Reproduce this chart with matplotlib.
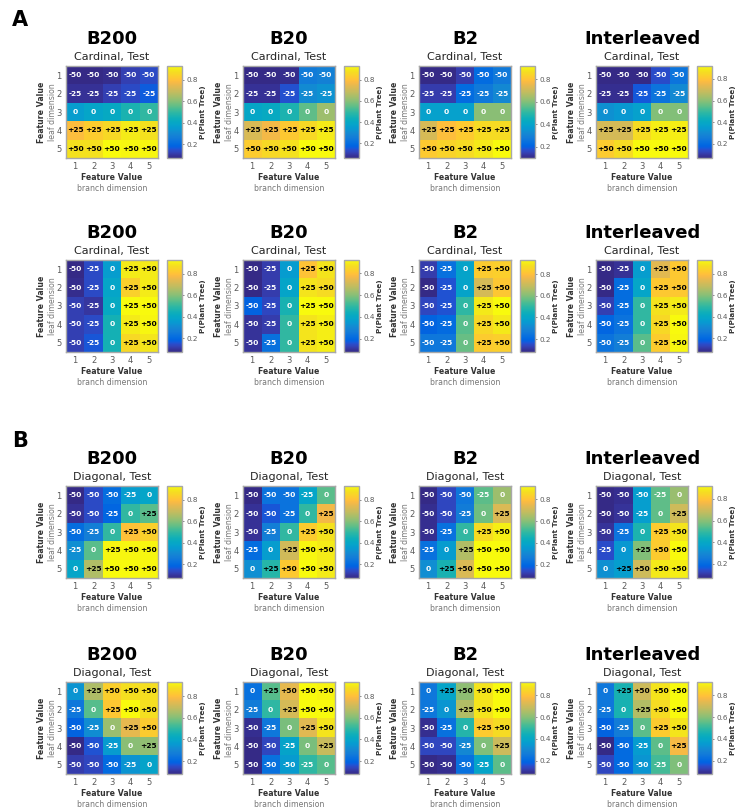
import numpy as np
import matplotlib
matplotlib.use("Agg")
import matplotlib.pyplot as plt
from matplotlib.colors import LinearSegmentedColormap

# ---------------- data ----------------
feature_ticks = [1, 2, 3, 4, 5]
cbar_ticks = [0.2, 0.4, 0.6, 0.8]
column_titles = ["B200", "B20", "B2", "Interleaved"]
row_subtitles = ["Cardinal, Test", "Cardinal, Test", "Diagonal, Test", "Diagonal, Test"]

labels_card_leaf = [["-50"] * 5, ["-25"] * 5, ["0"] * 5, ["+25"] * 5, ["+50"] * 5]
labels_card_branch = [["-50", "-25", "0", "+25", "+50"]] * 5
labels_diag_a = [["-50", "-50", "-50", "-25", "0"],
                 ["-50", "-50", "-25", "0", "+25"],
                 ["-50", "-25", "0", "+25", "+50"],
                 ["-25", "0", "+25", "+50", "+50"],
                 ["0", "+25", "+50", "+50", "+50"]]
labels_diag_b = [["0", "+25", "+50", "+50", "+50"],
                 ["-25", "0", "+25", "+50", "+50"],
                 ["-50", "-25", "0", "+25", "+50"],
                 ["-50", "-50", "-25", "0", "+25"],
                 ["-50", "-50", "-50", "-25", "0"]]

# row 1: Cardinal (leaf dimension)
card_leaf_B200 = [[0.07, 0.07, 0.08, 0.12, 0.14],
                  [0.09, 0.09, 0.12, 0.14, 0.17],
                  [0.36, 0.39, 0.41, 0.46, 0.50],
                  [0.79, 0.83, 0.86, 0.90, 0.88],
                  [0.88, 0.88, 0.93, 0.92, 0.92]]
card_leaf_B20 = [[0.06, 0.06, 0.07, 0.25, 0.27],
                 [0.08, 0.08, 0.14, 0.30, 0.32],
                 [0.39, 0.41, 0.46, 0.55, 0.63],
                 [0.72, 0.77, 0.82, 0.86, 0.90],
                 [0.83, 0.86, 0.88, 0.93, 0.93]]
card_leaf_B2 = [[0.10, 0.10, 0.14, 0.23, 0.27],
                [0.14, 0.14, 0.23, 0.27, 0.32],
                [0.39, 0.39, 0.39, 0.61, 0.61],
                [0.72, 0.79, 0.82, 0.86, 0.86],
                [0.82, 0.84, 0.86, 0.89, 0.92]]
card_leaf_Inter = [[0.07, 0.07, 0.07, 0.14, 0.23],
                   [0.08, 0.08, 0.16, 0.23, 0.30],
                   [0.32, 0.34, 0.37, 0.59, 0.59],
                   [0.71, 0.71, 0.86, 0.90, 0.90],
                   [0.82, 0.86, 0.92, 0.92, 0.92]]

# row 2: Cardinal (branch dimension)
card_branch_B200 = [[0.07, 0.14, 0.36, 0.90, 0.90],
                    [0.08, 0.14, 0.39, 0.84, 0.90],
                    [0.12, 0.10, 0.41, 0.93, 0.93],
                    [0.12, 0.14, 0.45, 0.90, 0.92],
                    [0.12, 0.16, 0.45, 0.86, 0.89]]
card_branch_B20 = [[0.08, 0.12, 0.36, 0.80, 0.88],
                   [0.08, 0.12, 0.39, 0.88, 0.86],
                   [0.19, 0.14, 0.46, 0.92, 0.92],
                   [0.10, 0.12, 0.50, 0.88, 0.90],
                   [0.10, 0.23, 0.50, 0.88, 0.90]]
card_branch_B2 = [[0.12, 0.23, 0.39, 0.83, 0.84],
                  [0.08, 0.16, 0.39, 0.72, 0.82],
                  [0.14, 0.16, 0.50, 0.90, 0.93],
                  [0.19, 0.21, 0.55, 0.86, 0.90],
                  [0.25, 0.25, 0.57, 0.83, 0.84]]
card_branch_Inter = [[0.07, 0.09, 0.36, 0.74, 0.82],
                     [0.07, 0.21, 0.39, 0.82, 0.82],
                     [0.12, 0.21, 0.50, 0.88, 0.90],
                     [0.19, 0.23, 0.50, 0.86, 0.93],
                     [0.23, 0.27, 0.55, 0.83, 0.92]]

# row 3: Diagonal (a)
diag_a_B200 = [[0.07, 0.14, 0.21, 0.36, 0.39],
               [0.09, 0.14, 0.19, 0.50, 0.55],
               [0.21, 0.27, 0.50, 0.80, 0.84],
               [0.32, 0.55, 0.92, 0.92, 0.92],
               [0.39, 0.66, 0.93, 0.93, 0.92]]
diag_a_B20 = [[0.07, 0.23, 0.23, 0.39, 0.55],
              [0.09, 0.16, 0.23, 0.50, 0.77],
              [0.09, 0.27, 0.50, 0.83, 0.88],
              [0.21, 0.36, 0.71, 0.92, 0.90],
              [0.32, 0.48, 0.82, 0.93, 0.90]]
diag_a_B2 = [[0.08, 0.14, 0.25, 0.55, 0.63],
             [0.09, 0.14, 0.27, 0.57, 0.72],
             [0.09, 0.23, 0.50, 0.86, 0.90],
             [0.23, 0.36, 0.66, 0.92, 0.92],
             [0.32, 0.46, 0.72, 0.92, 0.92]]
diag_a_Inter = [[0.07, 0.08, 0.36, 0.55, 0.62],
                [0.07, 0.09, 0.36, 0.55, 0.70],
                [0.09, 0.23, 0.46, 0.82, 0.88],
                [0.14, 0.34, 0.59, 0.82, 0.92],
                [0.32, 0.36, 0.70, 0.89, 0.90]]

# row 4: Diagonal (b)
diag_b_B200 = [[0.34, 0.66, 0.84, 0.88, 0.88],
               [0.25, 0.55, 0.82, 0.93, 0.88],
               [0.19, 0.32, 0.63, 0.75, 0.83],
               [0.08, 0.16, 0.36, 0.61, 0.62],
               [0.12, 0.14, 0.21, 0.34, 0.39]]
diag_b_B20 = [[0.23, 0.55, 0.75, 0.93, 0.92],
              [0.27, 0.50, 0.72, 0.93, 0.93],
              [0.09, 0.25, 0.59, 0.74, 0.89],
              [0.08, 0.14, 0.39, 0.59, 0.70],
              [0.08, 0.23, 0.36, 0.50, 0.55]]
diag_b_B2 = [[0.25, 0.39, 0.61, 0.88, 0.92],
             [0.25, 0.34, 0.66, 0.88, 0.92],
             [0.09, 0.23, 0.48, 0.82, 0.86],
             [0.14, 0.14, 0.30, 0.59, 0.70],
             [0.08, 0.09, 0.23, 0.39, 0.55]]
diag_b_Inter = [[0.25, 0.46, 0.70, 0.88, 0.92],
                [0.25, 0.46, 0.66, 0.86, 0.92],
                [0.19, 0.27, 0.55, 0.82, 0.88],
                [0.08, 0.21, 0.36, 0.55, 0.77],
                [0.14, 0.21, 0.34, 0.52, 0.59]]

panel_values = [
    [card_leaf_B200, card_leaf_B20, card_leaf_B2, card_leaf_Inter],
    [card_branch_B200, card_branch_B20, card_branch_B2, card_branch_Inter],
    [diag_a_B200, diag_a_B20, diag_a_B2, diag_a_Inter],
    [diag_b_B200, diag_b_B20, diag_b_B2, diag_b_Inter],
]
panel_labels = [labels_card_leaf, labels_card_branch, labels_diag_a, labels_diag_b]

# ---------------- style ----------------
PARULA = [
    [0.2081, 0.1663, 0.5292], [0.2116, 0.1898, 0.5777], [0.2123, 0.2138, 0.6270],
    [0.2081, 0.2386, 0.6771], [0.1959, 0.2645, 0.7279], [0.1707, 0.2919, 0.7792],
    [0.1253, 0.3242, 0.8303], [0.0591, 0.3598, 0.8683], [0.0117, 0.3875, 0.8820],
    [0.0060, 0.4086, 0.8828], [0.0165, 0.4266, 0.8786], [0.0329, 0.4430, 0.8720],
    [0.0498, 0.4586, 0.8641], [0.0629, 0.4737, 0.8554], [0.0723, 0.4887, 0.8467],
    [0.0779, 0.5040, 0.8384], [0.0793, 0.5200, 0.8312], [0.0749, 0.5375, 0.8263],
    [0.0641, 0.5570, 0.8240], [0.0488, 0.5772, 0.8228], [0.0343, 0.5966, 0.8199],
    [0.0265, 0.6137, 0.8135], [0.0239, 0.6287, 0.8038], [0.0231, 0.6418, 0.7913],
    [0.0228, 0.6535, 0.7768], [0.0267, 0.6642, 0.7607], [0.0384, 0.6743, 0.7436],
    [0.0590, 0.6838, 0.7254], [0.0843, 0.6928, 0.7062], [0.1133, 0.7015, 0.6859],
    [0.1453, 0.7098, 0.6646], [0.1801, 0.7177, 0.6424], [0.2178, 0.7250, 0.6193],
    [0.2586, 0.7317, 0.5954], [0.3022, 0.7376, 0.5712], [0.3482, 0.7424, 0.5473],
    [0.3953, 0.7459, 0.5244], [0.4420, 0.7481, 0.5033], [0.4871, 0.7491, 0.4840],
    [0.5300, 0.7491, 0.4661], [0.5709, 0.7485, 0.4494], [0.6099, 0.7473, 0.4337],
    [0.6473, 0.7456, 0.4188], [0.6834, 0.7435, 0.4044], [0.7184, 0.7411, 0.3905],
    [0.7525, 0.7384, 0.3768], [0.7858, 0.7356, 0.3633], [0.8185, 0.7327, 0.3498],
    [0.8507, 0.7299, 0.3360], [0.8824, 0.7274, 0.3217], [0.9139, 0.7258, 0.3063],
    [0.9450, 0.7261, 0.2886], [0.9739, 0.7314, 0.2666], [0.9938, 0.7455, 0.2403],
    [0.9990, 0.7653, 0.2164], [0.9955, 0.7861, 0.1967], [0.9880, 0.8066, 0.1794],
    [0.9789, 0.8271, 0.1633], [0.9697, 0.8481, 0.1475], [0.9626, 0.8705, 0.1309],
    [0.9589, 0.8949, 0.1132], [0.9598, 0.9218, 0.0948], [0.9661, 0.9514, 0.0755],
    [0.9763, 0.9831, 0.0538]]
cmap = LinearSegmentedColormap.from_list("parula", PARULA)

W, H = 735, 811
fig = plt.figure(figsize=(W / 100, H / 100), dpi=100)
fig.patch.set_facecolor("white")

col_left = [66, 243, 419, 596]
cbar_left = [167, 344, 520, 697]
row_top = [66, 260, 486, 682]
SZ = 92
CBW = 15
EDGE = "#a8a8a8"
TICKC = "#5a5a5a"

def px_rect(left, top, w, h):
    return [left / W, 1 - (top + h) / H, w / W, h / H]

for r in range(4):
    for c in range(4):
        vals = np.array(panel_values[r][c])
        labs = panel_labels[r]
        ax = fig.add_axes(px_rect(col_left[c], row_top[r], SZ, SZ))
        im = ax.imshow(vals, cmap=cmap, vmin=vals.min(), vmax=vals.max(),
                       extent=(0.5, 5.5, 5.5, 0.5), aspect="auto",
                       interpolation="nearest")
        ax.set_xticks(feature_ticks)
        ax.set_yticks(feature_ticks)
        ax.set_xticklabels([str(t) for t in feature_ticks])
        ax.set_yticklabels([str(t) for t in feature_ticks])
        ax.tick_params(length=0, labelsize=6, colors=TICKC, pad=3)
        for s in ax.spines.values():
            s.set_edgecolor(EDGE)
            s.set_linewidth(1.0)
        for i in range(5):
            for j in range(5):
                lab = labs[i][j]
                col = "black" if lab.startswith("+") else "white"
                ax.text(j + 1, i + 1, lab, ha="center", va="center",
                        fontsize=5.4, fontweight="bold", color=col)
        # titles
        ax.text(0.5, 1.29, column_titles[c], transform=ax.transAxes,
                ha="center", va="center", fontsize=13, fontweight="bold",
                color="black")
        ax.text(0.5, 1.10, row_subtitles[r], transform=ax.transAxes,
                ha="center", va="center", fontsize=8, color="#262626")
        # axis labels
        ax.text(0.5, -0.215, "Feature Value", transform=ax.transAxes,
                ha="center", va="center", fontsize=5.6, fontweight="bold",
                color="#333333")
        ax.text(0.5, -0.335, "branch dimension", transform=ax.transAxes,
                ha="center", va="center", fontsize=5.6, color="#777777")
        ax.text(-0.27, 0.5, "Feature Value", transform=ax.transAxes,
                ha="center", va="center", rotation=90, fontsize=5.6,
                fontweight="bold", color="#333333")
        ax.text(-0.15, 0.5, "leaf dimension", transform=ax.transAxes,
                ha="center", va="center", rotation=90, fontsize=5.6,
                color="#777777")
        # colorbar
        cax = fig.add_axes(px_rect(cbar_left[c], row_top[r], CBW, SZ))
        cb = fig.colorbar(im, cax=cax, ticks=cbar_ticks)
        cb.outline.set_edgecolor(EDGE)
        cb.outline.set_linewidth(1.0)
        cax.tick_params(length=1.5, width=0.5, labelsize=5.2, colors=TICKC, pad=1.5)
        cax.text(2.42, 0.5, "P(Plant Tree)", transform=cax.transAxes,
                 ha="center", va="center", rotation=90, fontsize=5.2,
                 fontweight="bold", color="#333333")

fig.text(20 / W, 1 - 20 / H, "A", ha="center", va="center", fontsize=15,
         fontweight="bold")
fig.text(20 / W, 1 - 441 / H, "B", ha="center", va="center", fontsize=15,
         fontweight="bold")

fig.savefig("out.png", dpi=100, facecolor="white")
